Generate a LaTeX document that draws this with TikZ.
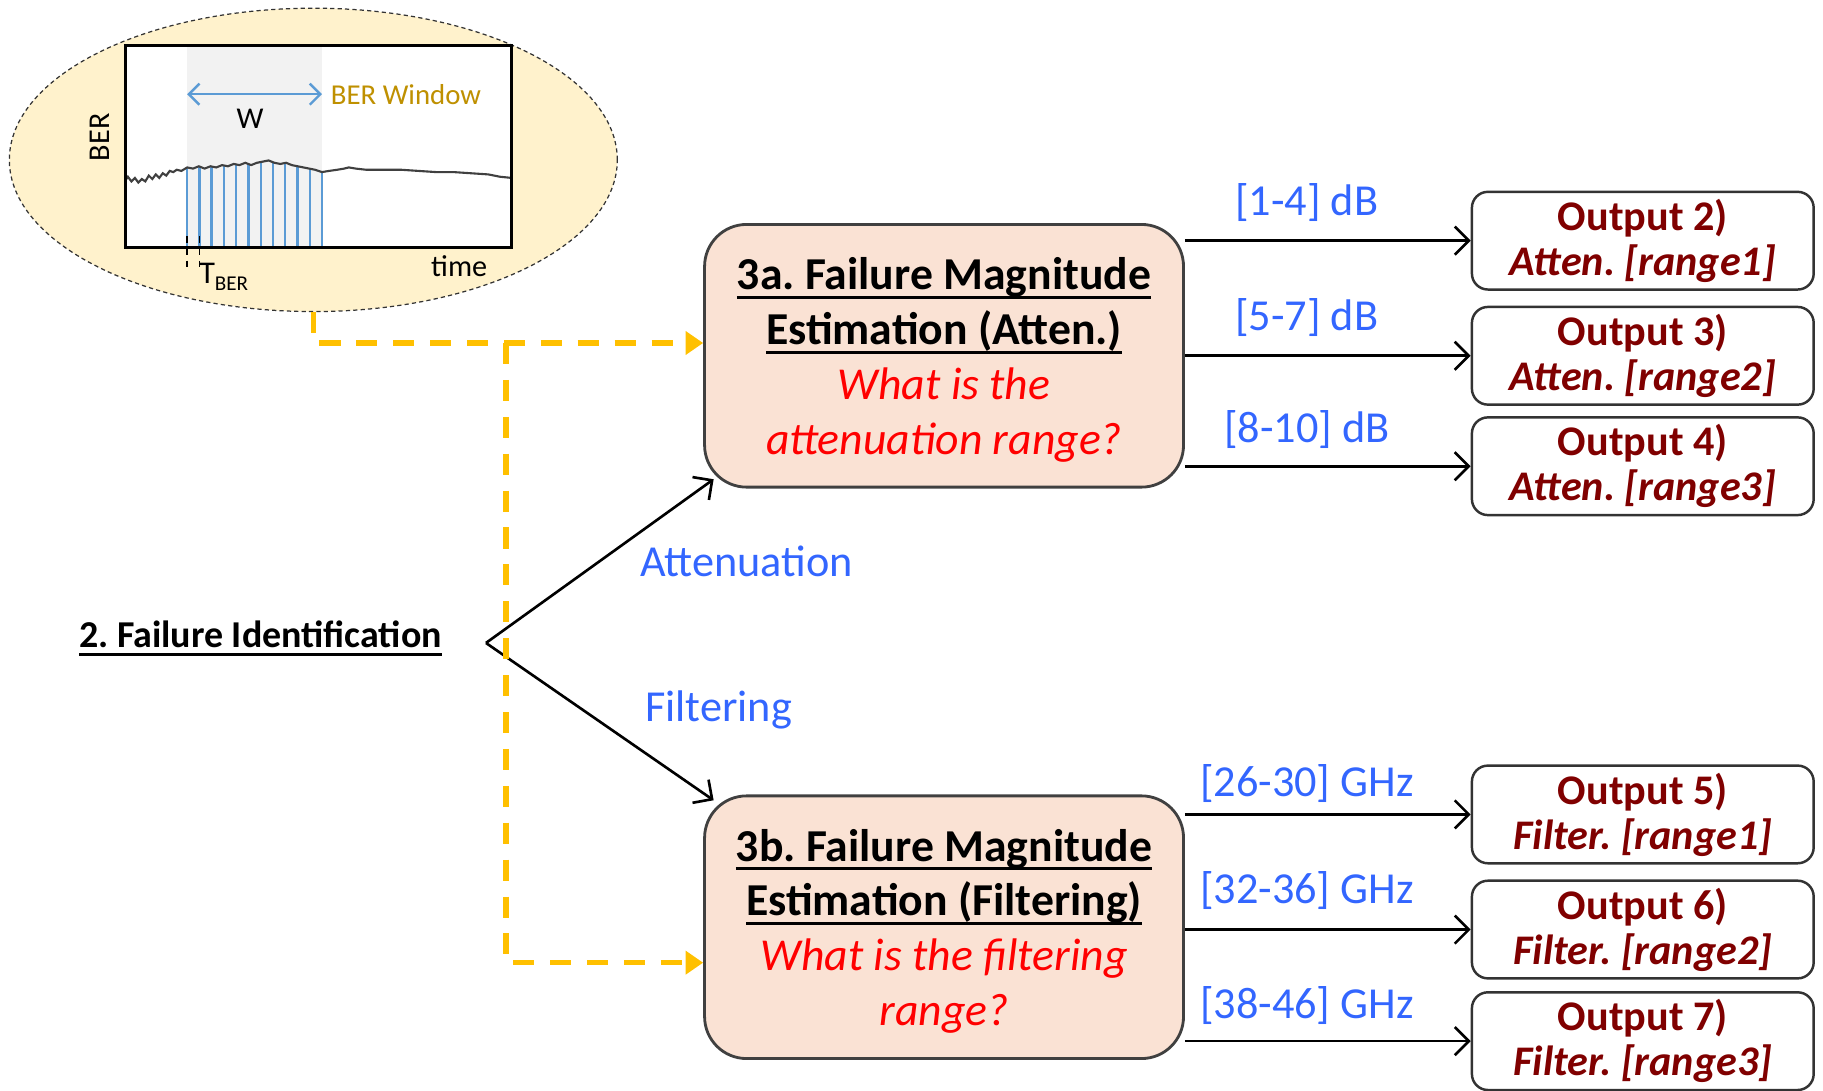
\documentclass[tikz,border=0pt]{standalone}
\usepackage{fontspec}
\setmainfont{Carlito}
\usetikzlibrary{arrows.meta,calc,shapes.geometric}

\definecolor{peach}{RGB}{250,226,212}
\definecolor{ellfill}{RGB}{255,242,204}
\definecolor{gold}{RGB}{255,192,0}
\definecolor{labblue}{RGB}{51,102,255}
\definecolor{darkred}{RGB}{128,0,0}
\definecolor{winblue}{RGB}{91,155,213}
\definecolor{wintext}{RGB}{191,144,0}
\definecolor{qred}{RGB}{255,0,0}
\definecolor{wingrey}{RGB}{242,242,242}

% underlined text with a rule of fixed thickness
\newcommand\uln[1]{\setbox0\hbox{#1}\leavevmode\rlap{\rule[-2.6pt]{\wd0}{0.8pt}}\box0}

% BER trace inside the plot
\newcommand\bertrace{(108,155) -- (110,152) -- (113,156) -- (116,153) -- (119,157) -- (122,154) -- (125,156) -- (128,151) -- (131,154) -- (134,150) -- (137,153) -- (140,149) -- (143,151) -- (146,147) -- (149,148) -- (152,146) -- (156,147) -- (161,144) -- (166,145) -- (171,143) -- (176,145) -- (181,143) -- (186,144) -- (191,142) -- (196,143) -- (201,141) -- (206,142) -- (211,140) -- (216,142) -- (221,140) -- (226,139) -- (231,138) -- (236,140) -- (241,141) -- (246,140) -- (251,142) -- (256,143) -- (261,144) -- (266,145) -- (271,146) -- (277,148) -- (283,147) -- (290,146) -- (296,145) -- (300,144) -- (306,145) -- (315,146) -- (330,146) -- (345,146) -- (360,147) -- (375,148) -- (390,148) -- (405,149) -- (420,150) -- (430,152) -- (440,153)}

\tikzset{
  estbox/.style={draw=black!75, line width=0.8pt, fill=peach, rounded corners=0.42cm,
    minimum width=4.79cm, minimum height=2.627cm, align=center, inner sep=0pt,
    text depth=0pt, font=\fontsize{13}{15.6}\selectfont},
  outbox/.style={draw=black!80, line width=0.7pt, fill=white, rounded corners=0.16cm,
    minimum width=3.418cm, minimum height=0.977cm, align=center, inner sep=0pt,
    text=darkred, font=\bfseries\fontsize{12}{12.8}\selectfont},
  rangelab/.style={text=labblue, font=\fontsize{12.6}{14}\selectfont, inner sep=0pt},
  arr/.style={line width=0.75pt, -{Straight Barb[length=4pt,width=8pt]}},
  yel/.style={draw=gold, line width=1.6pt, dash pattern=on 6pt off 4.5pt,
    -{Triangle[length=5pt,width=6.5pt]}},
}

\begin{document}
\frenchspacing
\begin{tikzpicture}[x=0.011626cm, y=-0.011626cm]
\useasboundingbox (0,0) rectangle (1568,938);

% ---- BER window inset ----
\node[ellipse, draw=black!80, line width=0.35pt, dash pattern=on 1.2pt off 0.9pt, fill=ellfill,
  minimum width=6.08cm, minimum height=3.034cm, inner sep=0pt] (ell) at (269.5,137.5) {};
\fill[white] (108,39) rectangle (440,213);
\fill[wingrey] (161,39) rectangle (277,213);
\begin{scope}
  \clip \bertrace -- (440,213) -- (108,213) -- cycle;
  \foreach \i in {0,...,11}
    \draw[winblue, line width=0.7pt] ({161+10.545*\i},100) -- ({161+10.545*\i},213);
\end{scope}
\draw[black!75, line width=0.6pt] \bertrace;
\draw[black, line width=1pt] (108,39) rectangle (440,213);
\draw[winblue, line width=0.7pt, {Straight Barb[length=3pt,width=6pt]}-{Straight Barb[length=3pt,width=6pt]}] (161,81) -- (277,81);
\node[text=wintext, anchor=west, inner sep=0pt, font=\fontsize{8.2}{10}\selectfont] (bw) at (284,81) {BER Window};
\node[inner sep=0pt, font=\fontsize{8.6}{10}\selectfont] (w) at (215,102) {W};
\node[inner sep=0pt, rotate=90, font=\fontsize{8.6}{10}\selectfont] (ber) at (86,118) {BER};
\node[inner sep=0pt, font=\fontsize{8.6}{10}\selectfont] (time) at (395,229) {time};
\draw[black, line width=0.5pt, dash pattern=on 2pt off 1.5pt] (161,203) -- (161,230);
\draw[black, line width=0.5pt, dash pattern=on 2pt off 1.5pt] (171.5,203) -- (171.5,230);
\node[anchor=west, inner sep=0pt, font=\fontsize{9}{10}\selectfont] (tber) at (171,238)
  {T\raisebox{-0.45ex}{\fontsize{6}{7}\selectfont BER}};

% ---- estimation stages ----
\node[estbox] (b3a) at (812,306)
  {\bfseries\uln{3a. Failure Magnitude}\\
   \bfseries\uln{Estimation (Atten.)}\\
   \textcolor{qred}{\itshape What is the}\\
   \textcolor{qred}{\itshape attenuation range?}};
\node[estbox] (b3b) at (812,797.5)
  {\bfseries\uln{3b. Failure Magnitude}\\
   \bfseries\uln{Estimation (Filtering)}\\
   \textcolor{qred}{\itshape What is the filtering}\\
   \textcolor{qred}{\itshape range?}};

% ---- failure identification and branches ----
\node[inner sep=0pt, font=\bfseries\fontsize{10.8}{12}\selectfont] (fid) at (224,549)
  {\uln{2. Failure Identification}};
\coordinate (bp) at (418,553);
\draw[arr] (bp) -- ($(b3a.south west)+(9,-8)$);
\draw[arr] (bp) -- ($(b3b.north west)+(9,5)$);
\node[rangelab] (latt) at (642,483) {Attenuation};
\node[rangelab] (lfil) at (618,611) {Filtering};

% ---- output classes ----
\node[outbox] (o2) at (1413,207) {Output 2)\\\itshape Atten. [range1]};
\node[outbox] (o3) at (1413,306) {Output 3)\\\itshape Atten. [range2]};
\node[outbox] (o4) at (1413,401) {Output 4)\\\itshape Atten. [range3]};
\node[outbox] (o5) at (1413,700.5) {Output 5)\\\itshape Filter. [range1]};
\node[outbox] (o6) at (1413,799.5) {Output 6)\\\itshape Filter. [range2]};
\node[outbox] (o7) at (1413,895.5) {Output 7)\\\itshape Filter. [range3]};

\foreach \o in {o2,o3,o4}
  \draw[arr] (b3a.east |- \o.west) -- (\o.west);
\foreach \o in {o5,o6,o7}
  \draw[arr] (b3b.east |- \o.west) -- (\o.west);

\node[rangelab] (r1) at (1124,174) {[1-4] dB};
\node[rangelab] (r2) at (1124,273) {[5-7] dB};
\node[rangelab] (r3) at (1124,369) {[8-10] dB};
\node[rangelab] (r4) at (1124,674) {[26-30] GHz};
\node[rangelab] (r5) at (1124,766) {[32-36] GHz};
\node[rangelab] (r6) at (1124,865) {[38-46] GHz};

% ---- BER window feed into both estimators ----
\coordinate (ha) at (0,295);
\coordinate (hb) at (0,828);
\coordinate (jn) at (435,295);
\draw[yel] (ell.south) |- (b3a.west |- ha);
\draw[yel] (jn) |- (b3b.west |- hb);
\end{tikzpicture}
\end{document}
